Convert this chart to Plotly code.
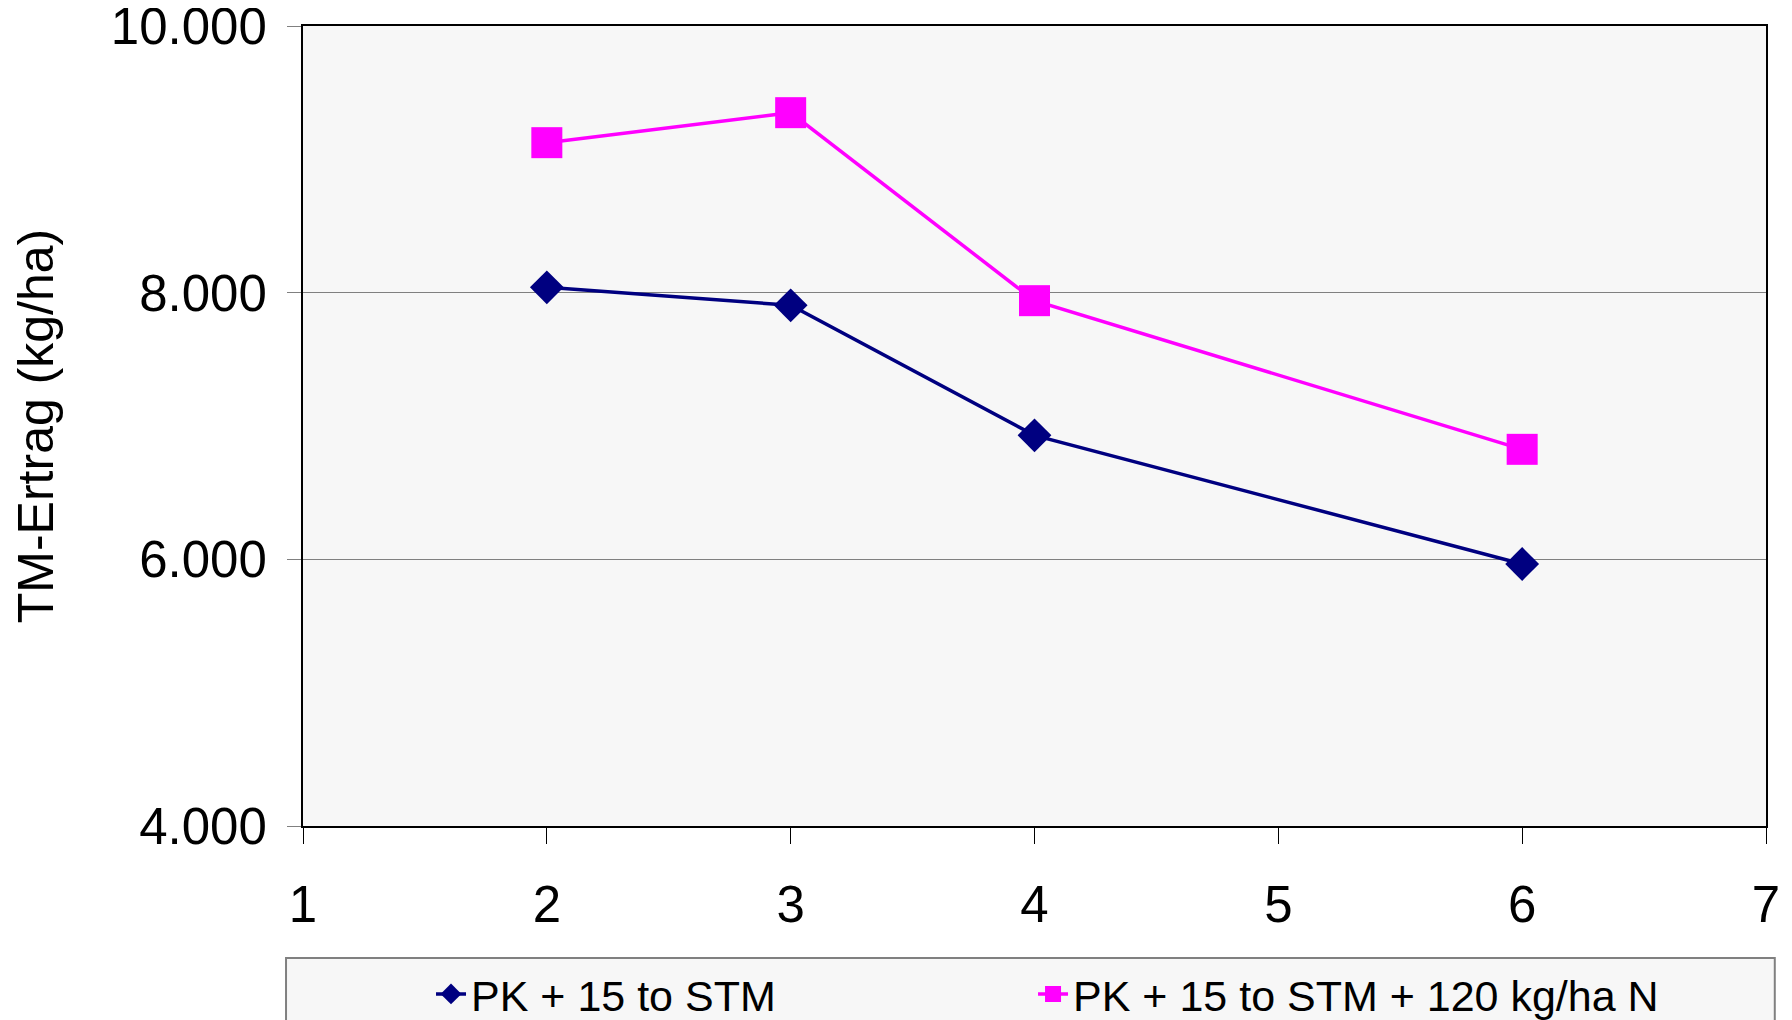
import plotly.graph_objects as go

x_vals = [2, 3, 4, 6]
series1_name = "PK + 15 to STM"
series1 = [8040, 7905, 6930, 5965]
series2_name = "PK + 15 to STM + 120 kg/ha N"
series2 = [9125, 9350, 7940, 6825]
y_ticks = [4000, 6000, 8000, 10000]
x_ticks = [1, 2, 3, 4, 5, 6, 7]

FONT = "Liberation Sans, Arial, sans-serif"

fig = go.Figure()
fig.add_trace(go.Scatter(
    x=x_vals, y=series1, name=series1_name, mode="lines+markers",
    line=dict(color="#000080", width=3.5),
    marker=dict(symbol="diamond", size=26, color="#000080"),
    legend="legend",
))
fig.add_trace(go.Scatter(
    x=x_vals, y=series2, name=series2_name, mode="lines+markers",
    line=dict(color="#FF00FF", width=3.5),
    marker=dict(symbol="square", size=31, color="#FF00FF"),
    legend="legend2",
))

# legend box frame
fig.add_shape(type="rect", xref="paper", yref="paper",
              x0=-0.0116, x1=1.006, y0=-0.30, y1=-0.165,
              line=dict(color="#808080", width=2), fillcolor="#f7f7f7", layer="below")

leg_common = dict(orientation="h", xanchor="left", y=-0.21, yanchor="middle",
                  bgcolor="rgba(0,0,0,0)", font=dict(size=43, family=FONT, color="black"))

fig.update_layout(
    width=1792, height=1020,
    margin=dict(l=295, r=34, t=18, b=202, autoexpand=False),
    paper_bgcolor="white", plot_bgcolor="#f7f7f7",
    separators=",.",
    font=dict(family=FONT, size=50, color="black"),
    showlegend=True,
    legend=dict(x=0.0875, **leg_common),
    legend2=dict(x=0.499, **leg_common),
    xaxis=dict(range=[1, 7], tickvals=x_ticks, showgrid=False, zeroline=False,
               showline=True, linecolor="black", linewidth=2, mirror=True,
               ticks="outside", ticklen=16, tickcolor="black", tickwidth=1,
               tickfont=dict(size=51), ticklabelstandoff=17,
               ticklabeloverflow="allow"),
    yaxis=dict(range=[4000, 10000], tickvals=y_ticks, tickformat=",d",
               showgrid=True, gridcolor="#808080", gridwidth=1, zeroline=False,
               showline=True, linecolor="black", linewidth=2, mirror=True,
               ticks="outside", ticklen=14, tickcolor="#808080", tickwidth=1,
               tickfont=dict(size=51), ticklabelstandoff=10,
               ticklabeloverflow="allow",
               title=dict(text="TM-Ertrag (kg/ha)", font=dict(size=50), standoff=44)),
)

fig.write_html("out.html")
